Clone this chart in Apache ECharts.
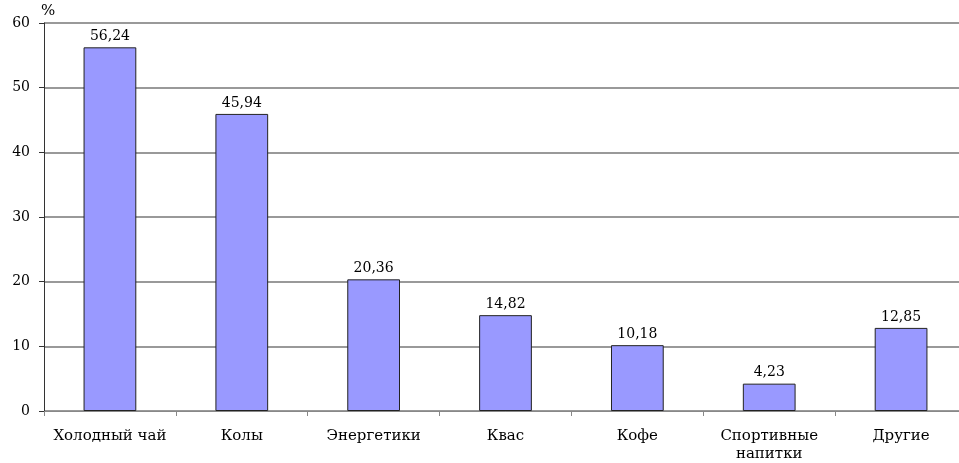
<!DOCTYPE html>
<html>
<head>
<meta charset="utf-8">
<script src="https://cdn.jsdelivr.net/npm/echarts@6/dist/echarts.min.js"></script>
<style>
  html, body { margin: 0; padding: 0; background: #fff; overflow: hidden; }
  /* canvas is a little wider than the window: the last category runs past the right edge */
  #chart { width: 967px; height: 463px; }
</style>
</head>
<body>
<div id="chart"></div>
<script>
// Drink categories and their shares, %
const categories = ['Холодный чай', 'Колы', 'Энергетики', 'Квас', 'Кофе', 'Спортивные\nнапитки', 'Другие'];
const shares = [56.24, 45.94, 20.36, 14.82, 10.18, 4.23, 12.85];
const yTicks = [0, 10, 20, 30, 40, 50, 60];

const font = '"DejaVu Serif", "Liberation Serif", serif';
const chart = echarts.init(document.getElementById('chart'));

chart.setOption({
  animation: false,
  backgroundColor: '#fff',
  grid: { left: 44, right: 0, top: 23, bottom: 45, containLabel: false },
  xAxis: {
    type: 'category',
    data: categories,
    axisLine: { show: true, lineStyle: { color: '#888', width: 1 } },
    axisTick: { show: true, alignWithLabel: false, length: 5, lineStyle: { color: '#888' } },
    axisLabel: { color: '#000', fontFamily: font, fontSize: 15, margin: 16, lineHeight: 18, interval: 0 },
    splitLine: { show: false }
  },
  yAxis: {
    type: 'value',
    min: yTicks[0],
    max: yTicks[yTicks.length - 1],
    interval: 10,
    name: '%',
    nameLocation: 'end',
    nameGap: 4,
    nameTextStyle: { color: '#000', fontFamily: font, fontSize: 15, align: 'left', padding: [0, 0, 0, -3] },
    axisLine: { show: true, lineStyle: { color: '#333', width: 1 } },
    axisTick: { show: true, length: 5, lineStyle: { color: '#333' } },
    axisLabel: { color: '#000', fontFamily: font, fontSize: 14, margin: 14 },
    splitLine: { show: true, lineStyle: { color: '#999', width: 2 } }
  },
  series: [{
    type: 'bar',
    data: shares,
    barCategoryGap: '60%',
    itemStyle: { color: '#9999FF', borderColor: '#222', borderWidth: 1 },
    label: {
      show: true,
      position: 'top',
      distance: 4,
      color: '#000',
      fontFamily: font,
      fontSize: 14,
      formatter: p => p.value.toFixed(2).replace('.', ',')
    }
  }]
});
</script>
</body>
</html>
